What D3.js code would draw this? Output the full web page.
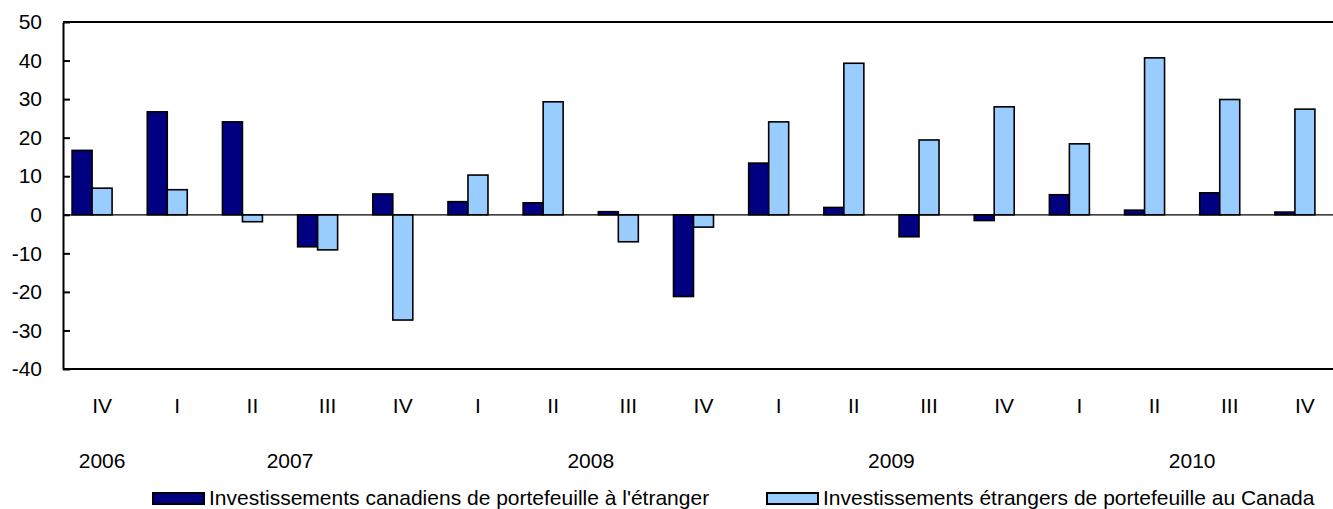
<!DOCTYPE html>
<html>
<head>
<meta charset="utf-8">
<script src="https://cdn.jsdelivr.net/npm/d3@7"></script>
<style>
  body { margin: 0; background: #fff; }
  text { font-family: "Liberation Sans", Arial, sans-serif; fill: #000; }
</style>
</head>
<body>
<div id="chart"></div>
<script>
// quarter labels and the year each quarter belongs to
const quarters = ["IV", "I", "II", "III", "IV", "I", "II", "III", "IV", "I", "II", "III", "IV", "I", "II", "III", "IV"]
const years = ["2006", "2007", "2007", "2007", "2007", "2008", "2008", "2008", "2008",
               "2009", "2009", "2009", "2009", "2010", "2010", "2010", "2010"]

// values, billions of dollars
const canadianAbroad = [16.7, 26.7, 24.1, -8.3, 5.4, 3.4, 3.1, 0.8, -21.2, 13.4, 1.9, -5.7, -1.5, 5.2, 1.2, 5.7, 0.7]
const foreignInCanada = [6.9, 6.5, -1.8, -9.1, -27.3, 10.3, 29.3, -7.0, -3.2, 24.1, 39.3, 19.4, 28.0, 18.4, 40.7, 29.9, 27.4]

const seriesNames = ["Investissements canadiens de portefeuille à l'étranger",
                     "Investissements étrangers de portefeuille au Canada"]
const seriesColors = ["#000080", "#99ccff"]
const yTicks = [-40, -30, -20, -10, 0, 10, 20, 30, 40, 50]

let width = 1333, height = 509
let plot = {left: 63, top: 22, right: 1341, bottom: 369}
let fontSize = '21px'

let svg = d3.select("#chart")
            .append('svg')
            .attr('width', width)
            .attr('height', height)

let idx = quarters.map(function(d, i) { return i })

let x = d3.scaleBand()
          .domain(idx)
          .range([plot.left, plot.right])
          .padding(0)

// the bar pair sits left of the band centre, as in the original
let groupShift = -8.5
let x1 = d3.scaleBand()
           .domain([0, 1])
           .range([0, 40])

let y = d3.scaleLinear()
          .domain([-40, 50])
          .range([plot.bottom, plot.top])

// bars
let rows = []
idx.forEach(function(i) {
    rows.push({i: i, s: 0, v: canadianAbroad[i]})
    rows.push({i: i, s: 1, v: foreignInCanada[i]})
})

svg.append('g')
   .selectAll('rect')
   .data(rows)
   .enter()
   .append('rect')
   .attr('x', function(d) { return x(d.i) + x.bandwidth() / 2 + groupShift - 20 + x1(d.s) })
   .attr('width', x1.bandwidth())
   .attr('y', function(d) { return y(Math.max(0, d.v)) })
   .attr('height', function(d) { return Math.abs(y(d.v) - y(0)) })
   .attr('fill', function(d) { return seriesColors[d.s] })
   .attr('stroke', '#000')
   .attr('stroke-width', 1.6)

// zero line
svg.append('line')
   .attr('x1', plot.left).attr('x2', plot.right)
   .attr('y1', y(0)).attr('y2', y(0))
   .attr('stroke', '#000')
   .attr('stroke-width', 1.2)

// frame top and bottom
svg.append('line')
   .attr('x1', plot.left).attr('x2', plot.right)
   .attr('y1', plot.top).attr('y2', plot.top)
   .attr('stroke', '#000').attr('stroke-width', 2)
svg.append('line')
   .attr('x1', plot.left).attr('x2', plot.right)
   .attr('y1', plot.bottom).attr('y2', plot.bottom)
   .attr('stroke', '#000').attr('stroke-width', 2)

// y axis, ticks point inward; plain hyphen for negatives like the original
let yAxis = svg.append('g')
               .attr('transform', "translate(" + plot.left + ",0)")
               .call(d3.axisLeft(y)
                       .tickValues(yTicks)
                       .tickFormat(function(d) { return String(d) })
                       .tickSize(-7).tickPadding(21).tickSizeOuter(0))
yAxis.select('.domain').attr('stroke', '#000').attr('stroke-width', 2)
yAxis.selectAll('.tick line').attr('stroke', '#000').attr('stroke-width', 2)
yAxis.selectAll('text')
     .style('font-size', fontSize)
     .style('font-family', '"Liberation Sans", Arial, sans-serif')
     .attr('fill', '#000')

// quarter labels
let labelX = function(i) { return x(i) + x.bandwidth() / 2 + 1.5 }
svg.append('g')
   .selectAll('text')
   .data(idx)
   .enter()
   .append('text')
   .attr('x', labelX)
   .attr('y', 413)
   .attr('text-anchor', 'middle')
   .style('font-size', fontSize)
   .text(function(i) { return quarters[i] })

// year labels, centred under their quarters
let yearGroups = d3.groups(idx, function(i) { return years[i] })
svg.append('g')
   .selectAll('text')
   .data(yearGroups)
   .enter()
   .append('text')
   .attr('x', function(g) { return d3.mean(g[1], labelX) })
   .attr('y', 468)
   .attr('text-anchor', 'middle')
   .style('font-size', fontSize)
   .text(function(g) { return g[0] })

// legend
let legendItems = [{x: 153, s: 0}, {x: 767, s: 1}]
let lg = svg.append('g')
            .selectAll('g')
            .data(legendItems)
            .enter()
            .append('g')
            .attr('transform', function(d) { return "translate(" + d.x + ",493)" })
lg.append('rect')
  .attr('width', 51)
  .attr('height', 11)
  .attr('fill', function(d) { return seriesColors[d.s] })
  .attr('stroke', '#000')
  .attr('stroke-width', 2)
lg.append('text')
  .attr('x', 56)
  .attr('y', 11.5)
  .style('font-size', fontSize)
  .text(function(d) { return seriesNames[d.s] })
</script>
</body>
</html>
